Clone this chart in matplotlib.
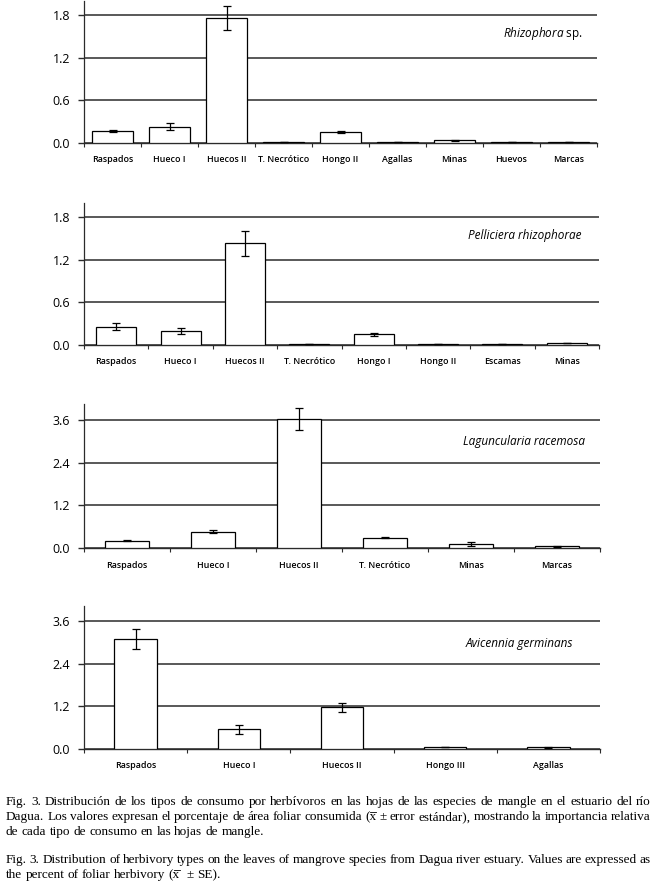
import matplotlib
matplotlib.use("Agg")
import matplotlib.pyplot as plt
from matplotlib.lines import Line2D
from matplotlib.ticker import FixedLocator

plt.rcParams["font.family"] = ["Open Sans", "DejaVu Sans"]
plt.rcParams["mathtext.fontset"] = "custom"
plt.rcParams["mathtext.it"] = "Open Sans:italic"
plt.rcParams["mathtext.rm"] = "Open Sans"

# --- data -------------------------------------------------------------
rhizo_cats = ["Raspados", "Hueco I", "Huecos II", "T. Necrótico", "Hongo II",
              "Agallas", "Minas", "Huevos", "Marcas"]
rhizo_vals = [0.17, 0.23, 1.76, 0.02, 0.15, 0.02, 0.04, 0.02, 0.02]
rhizo_err = [0.02, 0.045, 0.165, 0.0, 0.015, 0.0, 0.005, 0.0, 0.0]

pelli_cats = ["Raspados", "Hueco I", "Huecos II", "T. Necrótico", "Hongo I",
              "Hongo II", "Escamas", "Minas"]
pelli_vals = [0.26, 0.20, 1.43, 0.02, 0.15, 0.01, 0.01, 0.03]
pelli_err = [0.05, 0.04, 0.175, 0.0, 0.025, 0.0, 0.0, 0.005]

lagun_cats = ["Raspados", "Hueco I", "Huecos II", "T. Necrótico", "Minas", "Marcas"]
lagun_vals = [0.21, 0.46, 3.63, 0.29, 0.11, 0.05]
lagun_err = [0.02, 0.05, 0.32, 0.02, 0.055, 0.01]

avice_cats = ["Raspados", "Hueco I", "Huecos II", "Hongo III", "Agallas"]
avice_vals = [3.08, 0.55, 1.17, 0.055, 0.05]
avice_err = [0.28, 0.115, 0.12, 0.012, 0.01]

species = [r"$\mathit{Rhizophora}$ sp.", "Pelliciera rhizophorae",
           "Laguncularia racemosa", "Avicennia germinans"]

# "x\u0305" marks an x with a bar over it (drawn by hand below)
caption_es = [
    "Fig. 3. Distribución de los tipos de consumo por herbívoros en las hojas de las especies de mangle en el estuario del río",
    "Dagua. Los valores expresan el porcentaje de área foliar consumida (x\u0305 ± error estándar), mostrando la importancia relativa",
    "de cada tipo de consumo en las hojas de mangle.",
]
caption_en = [
    "Fig. 3. Distribution of herbivory types on the leaves of mangrove species from Dagua river estuary. Values are expressed as",
    "the percent of foliar herbivory (x\u0305  ± SE).",
]

W, H = 658, 891
fig = plt.figure(figsize=(W / 100, H / 100), dpi=100)

panels = [
    # cats, vals, err, ticks, ylim top, bar width, top px, bottom px, right px, label pos
    (rhizo_cats, rhizo_vals, rhizo_err, [0.0, 0.6, 1.2, 1.8], 2.0, 0.72, 1, 143, 597, (583, 33)),
    (pelli_cats, pelli_vals, pelli_err, [0.0, 0.6, 1.2, 1.8], 2.0, 0.62, 203, 345, 599, (581, 236)),
    (lagun_cats, lagun_vals, lagun_err, [0.0, 1.2, 2.4, 3.6], 4.05, 0.51, 404, 548, 600, (585, 442)),
    (avice_cats, avice_vals, avice_err, [0.0, 1.2, 2.4, 3.6], 4.02, 0.41, 606, 749, 600, (573, 643)),
]

left = 84
for i, (cats, vals, err, ticks, ytop, bw, top, bot, right, lab) in enumerate(panels):
    ax = fig.add_axes([left / W, 1 - bot / H, (right - left) / W, (bot - top) / H])
    n = len(cats)
    x = [k + 0.5 for k in range(n)]
    ax.bar(x, vals, width=bw, color="white", edgecolor="black", linewidth=0.9,
           zorder=3)
    ax.errorbar(x, vals, yerr=err, fmt="none", ecolor="black", elinewidth=0.9,
                capsize=2.6, capthick=0.9, zorder=4)
    ax.set_xlim(0, n)
    ax.set_ylim(0, ytop)
    ax.set_yticks(ticks)
    ax.set_yticklabels([f"{t:.1f}" for t in ticks], fontsize=9)
    ax.yaxis.grid(True, color="#2b2b2b", linewidth=1.1)
    ax.set_axisbelow(True)
    ax.tick_params(axis="y", length=4, width=1.0, color="#2b2b2b", pad=6)

    ax.set_xticks(x)
    ax.set_xticklabels(cats, fontsize=6.4, fontweight="semibold")
    ax.xaxis.set_minor_locator(FixedLocator(list(range(n + 1))))
    ax.tick_params(axis="x", which="major", length=0, pad=9)
    ax.tick_params(axis="x", which="minor", length=3, width=0.8, color="#2b2b2b")

    for s in ["top", "right"]:
        ax.spines[s].set_visible(False)
    ax.spines["left"].set_linewidth(0.9)
    ax.spines["left"].set_color("#2b2b2b")
    ax.spines["bottom"].set_linewidth(1.0)
    ax.spines["bottom"].set_color("#2b2b2b")

    style = "normal" if i == 0 else "italic"
    fig.text(lab[0] / W, 1 - lab[1] / H, species[i], fontsize=8.5,
             style=style, ha="right", va="center")

# --- justified caption -------------------------------------------------
renderer = fig.canvas.get_renderer()
cap_size = 9.5
cap_kw = dict(fontsize=cap_size, family=["Liberation Serif", "DejaVu Serif"],
              va="baseline", ha="left")
x0, x1 = 6, 651
em = cap_size * 100 / 72


def text_width(s):
    t = fig.text(0, 0, s, **cap_kw)
    w = t.get_window_extent(renderer).width
    t.remove()
    return w


space_w = 0.25 * em


def put_line(text, y, justify):
    words = text.split(" ")
    if justify:
        words = [w for w in words if w]
    clean = [w.replace("\u0305", "") for w in words]
    widths = [text_width(c) if c else 0.0 for c in clean]
    if justify:
        gap = ((x1 - x0) - sum(widths)) / (len(words) - 1)
    else:
        gap = space_w
    pos = x0
    for w, c, wd in zip(words, clean, widths):
        if c:
            fig.text(pos / W, 1 - y / H, c, **cap_kw)
        if "\u0305" in w:
            k = w.index("\u0305")
            xa = pos + text_width(c[:k - 1]) if k > 1 else pos
            xb = pos + text_width(c[:k])
            ybar = y - em * 0.58
            fig.add_artist(Line2D([(xa + 0.5) / W, (xb - 0.3) / W],
                                  [1 - ybar / H, 1 - ybar / H],
                                  color="black", linewidth=0.6))
        pos += wd + gap


for k, line in enumerate(caption_es):
    put_line(line, 805 + k * 15, k < len(caption_es) - 1)
for k, line in enumerate(caption_en):
    put_line(line, 863 + k * 15, k < len(caption_en) - 1)

fig.savefig("out.png", dpi=100)
